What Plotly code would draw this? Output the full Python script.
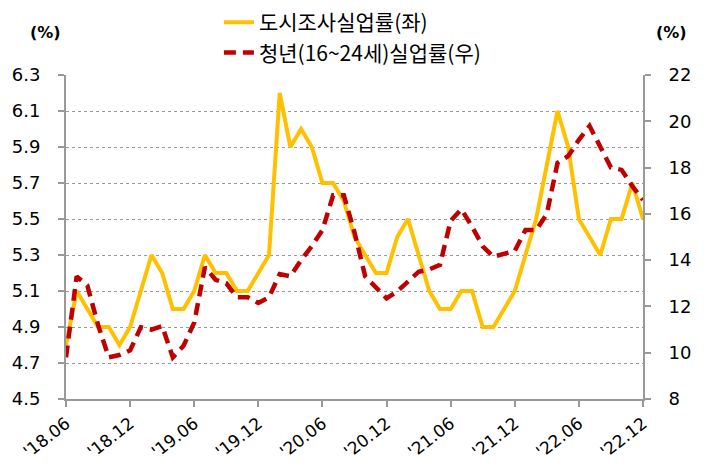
import plotly.graph_objects as go

# months '18.06 .. '22.12
months = []
for y in range(2018, 2023):
    for m in range(1, 13):
        if (y == 2018 and m < 6):
            continue
        months.append(f"'{y % 100:02d}.{m:02d}")

city_rate = [4.8, 5.1, 5.0, 4.9, 4.9, 4.8, 4.9, 5.1, 5.3, 5.2,
             5.0, 5.0, 5.1, 5.3, 5.2, 5.2, 5.1, 5.1, 5.2, 5.3,
             6.2, 5.9, 6.0, 5.9, 5.7, 5.7, 5.6, 5.4, 5.3, 5.2,
             5.2, 5.4, 5.5, 5.3, 5.1, 5.0, 5.0, 5.1, 5.1, 4.9,
             4.9, 5.0, 5.1, 5.3, 5.5, 5.8, 6.1, 5.9, 5.5, 5.4,
             5.3, 5.5, 5.5, 5.7, 5.5]

youth_rate = [9.8, 13.3, 12.9, 11.2, 9.8, 9.9, 10.1, 11.1, 11.0, 11.15,
              9.8, 10.3, 11.3, 13.7, 13.15, 13.0, 12.4, 12.4, 12.15, 12.4,
              13.4, 13.3, 14.0, 14.6, 15.3, 16.8, 16.8, 15.2, 13.3, 12.8,
              12.35, 12.65, 13.07, 13.5, 13.6, 13.8, 15.7, 16.2, 15.45, 14.6,
              14.15, 14.3, 14.4, 15.3, 15.3, 16.0, 18.2, 18.5, 19.2, 19.8,
              18.85, 18.0, 17.9, 17.2, 16.6]

tick_labels = ["'18.06", "'18.12", "'19.06", "'19.12", "'20.06",
               "'20.12", "'21.06", "'21.12", "'22.06", "'22.12"]

left_ticks = [4.5, 4.7, 4.9, 5.1, 5.3, 5.5, 5.7, 5.9, 6.1, 6.3]
right_ticks = [8, 10, 12, 14, 16, 18, 20, 22]

FONT = "DejaVu Sans"
KFONT = "Noto Sans CJK KR"

fig = go.Figure()
fig.add_trace(go.Scatter(
    x=months, y=city_rate, mode="lines", name="도시조사실업률(좌)",
    line=dict(color="#FFC000", width=4), yaxis="y"))
fig.add_trace(go.Scatter(
    x=months, y=youth_rate, mode="lines", name="청년(16~24세)실업률(우)",
    line=dict(color="#C00000", width=4.5, dash="12px,7px"), yaxis="y2"))

fig.update_layout(
    width=704, height=473,
    margin=dict(l=66, r=61, t=75, b=74, autoexpand=False),
    paper_bgcolor="white", plot_bgcolor="white",
    showlegend=True,
    legend=dict(orientation="v", x=0.265, xanchor="left", y=1.225, yanchor="top",
                font=dict(family=KFONT, size=21, color="#000"),
                bgcolor="rgba(0,0,0,0)", tracegroupgap=0, itemwidth=30),
    xaxis=dict(type="category", range=[0, len(months) - 1],
               tickmode="array", tickvals=tick_labels, ticktext=tick_labels,
               tickangle=-38, tickfont=dict(family=FONT, size=17, color="#000"),
               showgrid=False, showline=True, linecolor="#999", linewidth=2,
               ticks="outside", ticklen=6, tickcolor="#999", tickwidth=2,
               zeroline=False, automargin=False),
    yaxis=dict(range=[4.5, 6.3], tickmode="array", tickvals=left_ticks,
               ticktext=[f"{v:.1f}" for v in left_ticks],
               tickfont=dict(family=FONT, size=18, color="#000"),
               showgrid=True, gridcolor="#999", griddash="dot", gridwidth=1,
               showline=True, linecolor="#999", linewidth=2, zeroline=False,
               ticks="outside", ticklen=6, tickcolor="#999", tickwidth=2,
               ticklabelstandoff=14, automargin=False),
    yaxis2=dict(range=[8, 22], tickmode="array", tickvals=right_ticks,
                tickfont=dict(family=FONT, size=18, color="#000"),
                overlaying="y", side="right", showgrid=False,
                showline=True, linecolor="#999", linewidth=2, zeroline=False,
                ticks="outside", ticklen=6, tickcolor="#999", tickwidth=2,
                ticklabelstandoff=14, automargin=False),
)

fig.add_annotation(text="<b>(%)</b>", x=-0.036, y=1.13, xref="paper", yref="paper",
                   xanchor="center", yanchor="middle",
                   showarrow=False, font=dict(family=FONT, size=16, color="#000"))
fig.add_annotation(text="<b>(%)</b>", x=1.05, y=1.13, xref="paper", yref="paper",
                   xanchor="center", yanchor="middle",
                   showarrow=False, font=dict(family=FONT, size=16, color="#000"))

fig.write_html("out.html")
